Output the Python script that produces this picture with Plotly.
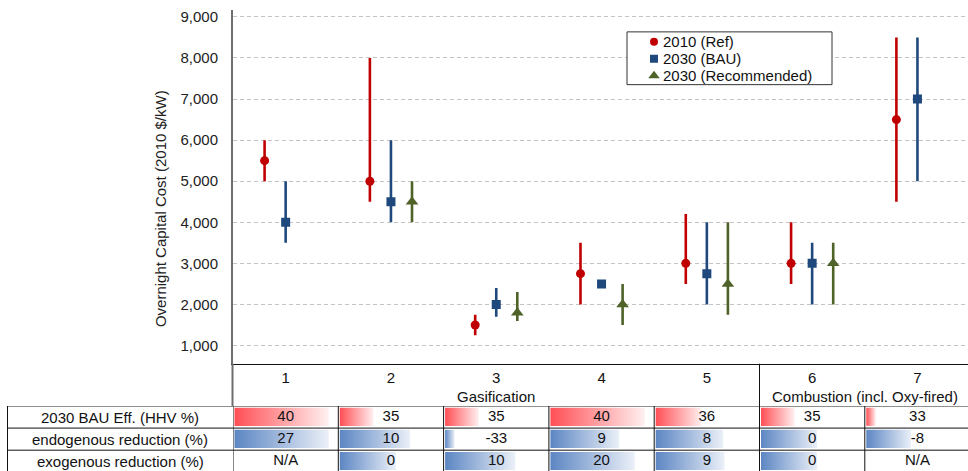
import plotly.graph_objects as go

# ---------------- data ----------------
categories = [1, 2, 3, 4, 5, 6, 7]

ref_mid = [5500, 5000, 1500, 2750, 3000, 3000, 6500]
ref_low = [5000, 4500, 1250, 2000, 2500, 2500, 4500]
ref_high = [6000, 8000, 1750, 3500, 4200, 4000, 8500]

bau_mid = [4000, 4500, 2000, 2500, 2750, 3000, 7000]
bau_low = [3500, 4000, 1700, 2500, 2000, 2000, 5000]
bau_high = [5000, 6000, 2400, 2500, 4000, 3500, 8500]

rec_mid = [None, 4500, 1800, 2000, 2500, 3000, None]
rec_low = [None, 4000, 1600, 1500, 1750, 2000, None]
rec_high = [None, 5000, 2300, 2500, 4000, 3500, None]

series_names = ["2010 (Ref)", "2030 (BAU)", "2030 (Recommended)"]

y_ticks = [1000, 2000, 3000, 4000, 5000, 6000, 7000, 8000, 9000]
y_title = "Overnight Capital Cost (2010 $/kW)"

group_names = ["Gasification", "Combustion (incl. Oxy-fired)"]
group_members = [[1, 2, 3, 4, 5], [6, 7]]

row_labels = ["2030 BAU Eff. (HHV %)", "endogenous reduction (%)", "exogenous reduction (%)"]
eff_values = [40, 35, 35, 40, 36, 35, 33]
endo_values = [27, 10, -33, 9, 8, 0, -8]
exo_values = [None, 0, 10, 20, 9, 0, None]

# ---------------- layout helpers ----------------
W, H = 968, 471
FONT = "Liberation Sans, Arial, sans-serif"
RED, BLUE, GREEN = "#C00000", "#1F497D", "#4F6228"
PX_PER_CAT = 105.3
X0_PX = 233
PLOT_TOP_PX, PLOT_BOT_PX = 8, 363.3
Y_RANGE = [556, 9169]


def pxx(p):
    return p / W


def pxy(p):
    return 1 - p / H


def data_x(p):  # pixel -> main x axis value
    return 0.5 + (p - X0_PX) / PX_PER_CAT


def data_y(p):  # pixel -> main y axis value
    return Y_RANGE[0] + (PLOT_BOT_PX - p) / (PLOT_BOT_PX - PLOT_TOP_PX) * (Y_RANGE[1] - Y_RANGE[0])


x_range = [0.5, data_x(W)]

fig = go.Figure()

# ---------------- scatter with error bars ----------------
offsets = [-0.2, 0.0, 0.2]
colors = [RED, BLUE, GREEN]
symbols = ["circle", "square", "triangle-up"]
sizes = [9, 9, 11]
mids = [ref_mid, bau_mid, rec_mid]
lows = [ref_low, bau_low, rec_low]
highs = [ref_high, bau_high, rec_high]

for name, off, mid, lo, hi, col, sym, size in zip(series_names, offsets, mids, lows, highs,
                                                   colors, symbols, sizes):
    xs, ys, up, dn = [], [], [], []
    for c, m, l, h in zip(categories, mid, lo, hi):
        if m is None:
            continue
        xs.append(c + off)
        ys.append(m)
        up.append(h - m)
        dn.append(m - l)
    fig.add_trace(go.Scatter(
        x=xs, y=ys, mode="markers", name=name, showlegend=False,
        marker=dict(color=col, symbol=sym, size=size, line=dict(width=0)),
        error_y=dict(type="data", symmetric=False, array=up, arrayminus=dn,
                     color=col, thickness=2.6, width=0),
        xaxis="x", yaxis="y",
    ))

# ---------------- custom legend (box drawn between grid and traces) ----------------
LEG_L, LEG_R, LEG_T, LEG_B = 627, 832, 30, 83
leg_item_y = [40, 57, 74]
leg_sym_x = 654
leg_sizes = [8, 8, 10]
shapes = [dict(type="rect", xref="x", yref="y", layer="between",
               x0=data_x(LEG_L), x1=data_x(LEG_R), y0=data_y(LEG_B), y1=data_y(LEG_T),
               fillcolor="white", line=dict(color="#333", width=1))]
annotations = []
for name, col, sym, s, iy in zip(series_names, colors, symbols, leg_sizes, leg_item_y):
    fig.add_trace(go.Scatter(
        x=[data_x(leg_sym_x)], y=[data_y(iy)], mode="markers", showlegend=False,
        marker=dict(color=col, symbol=sym, size=s, line=dict(width=0)),
        hoverinfo="skip", xaxis="x", yaxis="y", cliponaxis=False,
    ))
    annotations.append(dict(x=pxx(661), y=pxy(iy), xref="paper", yref="paper", text=name,
                            showarrow=False, xanchor="left", yanchor="middle",
                            font=dict(family=FONT, size=15, color="#111")))

# ---------------- table (data bars + numbers) ----------------
rows = [eff_values, endo_values, exo_values]
v1 = [v for v in eff_values if v is not None]
v2 = [v for v in endo_values + exo_values if v is not None]
row_scales = [(min(v1), max(v1)), (min(v2), max(v2)), (min(v2), max(v2))]
row_colors = [("#FF4F55", "#FFF0F0"), ("#5C86C3", "#EBF0F8"), ("#5C86C3", "#EBF0F8")]
ROW_PX = 22.2
TABLE_TOP_PX = 405.7

inset = 1.5 / PX_PER_CAT
for r, (vals, (vmin, vmax), (c0, c1)) in enumerate(zip(rows, row_scales, row_colors)):
    for c, v in zip(categories, vals):
        if v is None:
            continue
        frac = 0.09 + 0.805 * (v - vmin) / (vmax - vmin)
        xa = c - 0.5 + inset
        xb = xa + frac
        ya, yb = r + 0.08, r + 0.9
        fig.add_trace(go.Scatter(
            x=[xa, xb, xb, xa, xa], y=[ya, ya, yb, yb, ya],
            mode="lines", fill="toself", line=dict(width=0),
            fillgradient=dict(type="horizontal", colorscale=[[0, c0], [1, c1]],
                              start=xa, stop=xb),
            hoverinfo="skip", showlegend=False, xaxis="x2", yaxis="y2",
        ))
    fig.add_trace(go.Scatter(
        x=categories, y=[r + 0.5] * len(categories), mode="text",
        text=["N/A" if v is None else str(v) for v in vals],
        textfont=dict(family=FONT, size=15, color="#111"),
        textposition="middle center",
        hoverinfo="skip", showlegend=False, xaxis="x2", yaxis="y2",
    ))

# ---------------- shapes ----------------
BORDER = dict(color="#111", width=1)
for r in [0, 1, 2]:
    shapes.append(dict(type="line", xref="paper", yref="y2", x0=pxx(7), x1=1, y0=r, y1=r, line=BORDER))
for k in range(0, 8):
    shapes.append(dict(type="line", xref="x2", yref="y2", x0=k + 0.5, x1=k + 0.5, y0=0, y1=3, line=BORDER))
shapes.append(dict(type="line", xref="paper", yref="y2", x0=pxx(7.5), x1=pxx(7.5), y0=0, y1=3, line=BORDER))
shapes.append(dict(type="line", xref="paper", yref="paper", x0=pxx(232.5), x1=pxx(232.5),
                   y0=pxy(TABLE_TOP_PX), y1=pxy(PLOT_BOT_PX), line=dict(color="#6E6E6E", width=2)))
for g in group_members[:-1]:
    xb = max(g) + 0.5
    shapes.append(dict(type="line", xref="x", yref="paper", x0=xb, x1=xb,
                       y0=pxy(TABLE_TOP_PX), y1=pxy(PLOT_BOT_PX), line=BORDER))

for g, members in zip(group_names, group_members):
    annotations.append(dict(x=sum(members) / len(members), y=pxy(396), xref="x", yref="paper",
                            text=g, showarrow=False, font=dict(family=FONT, size=15, color="#111"),
                            xanchor="center", yanchor="middle"))
for r, lab in enumerate(row_labels):
    annotations.append(dict(x=pxx(120), y=r + 0.5, xref="paper", yref="y2", text=lab,
                            showarrow=False, font=dict(family=FONT, size=15, color="#111"),
                            xanchor="center", yanchor="middle"))
annotations.append(dict(x=pxx(160), y=pxy(208), xref="paper", yref="paper", text=y_title,
                        textangle=-90, showarrow=False,
                        font=dict(family=FONT, size=15, color="#222"),
                        xanchor="center", yanchor="middle"))

fig.update_layout(
    width=W, height=H,
    margin=dict(l=0, r=0, t=0, b=0),
    paper_bgcolor="white", plot_bgcolor="white",
    font=dict(family=FONT, size=15, color="#222"),
    xaxis=dict(domain=[pxx(X0_PX), 1], range=x_range, anchor="y",
               tickvals=categories, ticktext=[str(c) for c in categories],
               ticks="", ticklabelstandoff=0, showgrid=False, zeroline=False,
               showline=True, linecolor="#111", linewidth=1,
               tickfont=dict(family=FONT, size=15, color="#111")),
    yaxis=dict(domain=[pxy(PLOT_BOT_PX), pxy(PLOT_TOP_PX)], range=Y_RANGE, anchor="x",
               tickvals=y_ticks, tickformat=",d", ticks="", ticklabelstandoff=10,
               showgrid=True, gridcolor="#C4C4C4", griddash="4px,3px", gridwidth=1,
               zeroline=False, showline=True, linecolor="#6E6E6E", linewidth=2,
               tickfont=dict(family=FONT, size=15, color="#222")),
    xaxis2=dict(domain=[pxx(X0_PX), 1], range=x_range, anchor="y2", visible=False),
    yaxis2=dict(domain=[0, pxy(TABLE_TOP_PX)], range=[(H - TABLE_TOP_PX) / ROW_PX, 0],
                anchor="x2", visible=False),
    shapes=shapes,
    annotations=annotations,
    showlegend=False,
)

fig.write_html("out.html", config={"displayModeBar": False},
               post_script="document.body.style.margin='0';document.body.style.padding='0';")
